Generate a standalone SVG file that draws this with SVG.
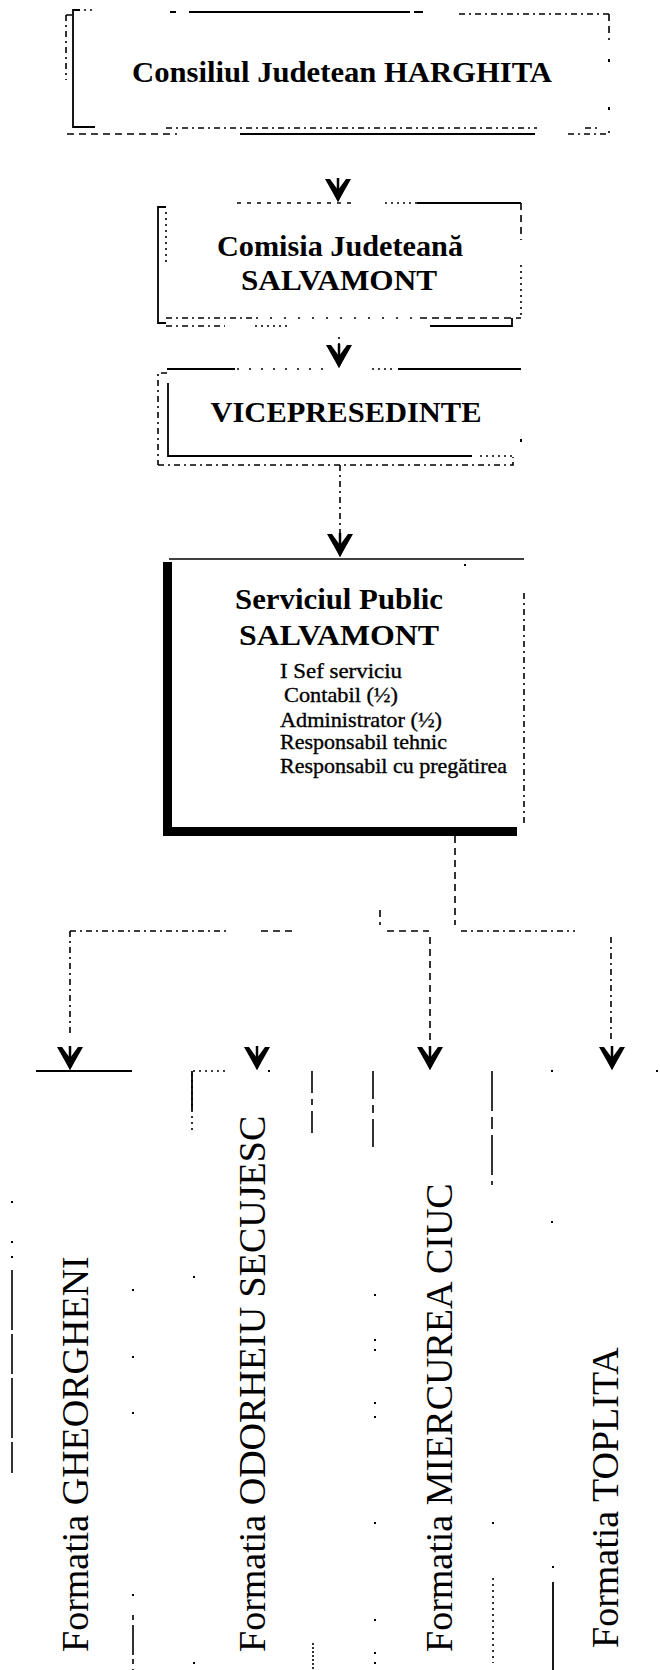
<svg xmlns="http://www.w3.org/2000/svg" width="660" height="1670" viewBox="0 0 660 1670">
<style>
.ln{stroke:#000;stroke-width:1.6;fill:none}
.sol{stroke:#000;stroke-width:1.8;fill:none}
.dsh{stroke:#000;stroke-width:1.6;fill:none;stroke-dasharray:7 5}
.dd{stroke:#000;stroke-width:1.6;fill:none;stroke-dasharray:6 4 2 4}
.dot{stroke:#000;stroke-width:1.6;fill:none;stroke-dasharray:2 4}
.hd{font-family:"Liberation Serif","Times New Roman",serif;font-weight:bold;font-size:30px;fill:#000}
.sm{font-family:"Liberation Serif","Times New Roman",serif;font-size:21px;fill:#000;stroke:#000;stroke-width:0.35}
.lab{font-family:"Liberation Serif","Times New Roman",serif;font-size:38px;fill:#000}
.pt{fill:#000}
</style>
<defs>
<g id="ah"><path d="M0,0 L-13,-23 L-8,-23 L0,-12 L8,-23 L13,-23 Z" fill="#000"/><path d="M0,0 L-6,-12 L0,-9 L6,-12 Z" fill="#000"/><path d="M0,-9 L0,-24" stroke="#000" stroke-width="2.5"/></g>
</defs>
<rect width="660" height="1670" fill="#fff"/>

<g id="node-consiliul">
<path class="sol" d="M80,10 L73,10 L73,127 L95,127"/>
<path class="dd" d="M66,15 L73,15 M66,15 L66,80"/>
<path class="dot" d="M84,10 L94,10"/>
<path class="sol" d="M170,12 L176,12 M189,12 L410,12 M414,12 L423,12"/>
<path class="dd" d="M459,14 L609,14"/>
<path class="dsh" d="M609,14 L609,40"/>
<rect class="pt" x="608" y="59" width="2" height="3"/>
<rect class="pt" x="608" y="107" width="2" height="3"/>
<path class="dd" d="M166,128 L537,128"/>
<path class="dsh" d="M67,134 L177,134"/>
<path class="sol" d="M240,134 L535,134"/>
<path class="dd" d="M568,134 L609,134 L609,127 M585,128 L600,128"/>
<text class="hd" x="342" y="82" text-anchor="middle" textLength="420" lengthAdjust="spacingAndGlyphs">Consiliul Judetean HARGHITA</text>
</g>

<g id="node-comisia">
<path class="sol" d="M166,207 L158,207 L158,323 L166,323"/>
<path class="dot" d="M166,212 L166,262"/>
<path class="dsh" d="M237,203 L353,203" style="stroke-dasharray:4 6"/>
<path class="dot" d="M385,203 L417,203"/>
<path class="sol" d="M417,203 L521,203"/>
<path class="dsh" d="M521,203 L521,240"/>
<path class="dot" d="M521,265 L521,317"/>
<path class="dd" d="M166,318 L260,318"/>
<path class="dot" d="M270,318 L420,318" style="stroke-dasharray:2 12"/>
<path class="dsh" d="M420,318 L521,318"/>
<path class="dd" d="M166,326 L225,326"/>
<path class="dot" d="M255,326 L290,326"/>
<path class="sol" d="M430,326 L512,326 L512,318"/>
<text class="hd" x="340" y="256" text-anchor="middle" textLength="246" lengthAdjust="spacingAndGlyphs">Comisia Judeteană</text>
<text class="hd" x="339" y="290" text-anchor="middle" textLength="196" lengthAdjust="spacingAndGlyphs">SALVAMONT</text>
</g>

<g id="node-vicepresedinte">
<path class="sol" d="M167,369 L235,369"/>
<path class="dot" d="M237,369 L330,369" style="stroke-dasharray:2 10"/>
<path class="dot" d="M372,369 L393,369"/>
<path class="sol" d="M398,369 L521,369"/>
<path class="dd" d="M167,373 L158,373 L158,465"/>
<path class="sol" d="M168,383 L168,456 L472,456"/>
<path class="dot" d="M480,456 L512,456"/>
<path class="dd" d="M158,465 L513,465 L513,457"/>
<rect class="pt" x="520" y="439" width="2" height="3"/>
<text class="hd" x="346" y="422" text-anchor="middle" textLength="271" lengthAdjust="spacingAndGlyphs">VICEPRESEDINTE</text>
</g>

<g id="node-serviciul">
<path d="M163,562 L172,562 L172,827 L517,827 L517,836 L163,836 Z" fill="#000"/>
<path class="ln" d="M169,559 L524,559"/>
<path class="dd" d="M524,593 L524,823"/>
<rect class="pt" x="464" y="564" width="2" height="2"/>
<text class="hd" x="339" y="609" text-anchor="middle" textLength="208" lengthAdjust="spacingAndGlyphs">Serviciul Public</text>
<text class="hd" x="339" y="645" text-anchor="middle" textLength="200" lengthAdjust="spacingAndGlyphs">SALVAMONT</text>
<text class="sm" x="280" y="678" textLength="122" lengthAdjust="spacingAndGlyphs">I Sef serviciu</text>
<text class="sm" x="284" y="702" textLength="114" lengthAdjust="spacingAndGlyphs">Contabil (½)</text>
<text class="sm" x="280" y="727" textLength="162" lengthAdjust="spacingAndGlyphs">Administrator (½)</text>
<text class="sm" x="280" y="749" textLength="167" lengthAdjust="spacingAndGlyphs">Responsabil tehnic</text>
<text class="sm" x="280" y="773" textLength="227" lengthAdjust="spacingAndGlyphs">Responsabil cu pregătirea</text>
</g>

<g id="node-gheorgheni">
<text class="lab" transform="translate(88,1652) rotate(-90)">Formatia GHEORGHENI</text>
</g>
<g id="node-odorheiu">
<text class="lab" transform="translate(265,1652) rotate(-90)">Formatia ODORHEIU SECUJESC</text>
</g>
<g id="node-miercurea">
<text class="lab" transform="translate(452,1652) rotate(-90)">Formatia MIERCUREA CIUC</text>
</g>
<g id="node-toplita">
<text class="lab" transform="translate(618,1648) rotate(-90)">Formatia TOPLITA</text>
</g>

<g id="connectors">
<use href="#ah" x="338" y="202"/>
<path class="dot" d="M339,337 L339,350"/>
<use href="#ah" x="339" y="368"/>
<path class="dd" d="M340,465 L340,545"/>
<use href="#ah" x="340" y="557"/>
<path class="dsh" d="M455,836 L455,925"/>
<path class="dsh" d="M380,910 L380,925"/>
<path class="dd" d="M70,931 L227,931"/>
<path class="dsh" d="M261,931 L297,931"/>
<path class="dsh" d="M387,931 L429,931"/>
<path class="dd" d="M461,931 L575,931"/>
<path class="dd" d="M70,931 L70,1033"/>
<use href="#ah" x="70" y="1070"/>
<path class="sol" d="M36,1071 L132,1071"/>
<use href="#ah" x="257" y="1070"/>
<path class="dsh" d="M430,937 L430,1043"/>
<use href="#ah" x="430" y="1070"/>
<path class="dd" d="M611,937 L611,1043"/>
<use href="#ah" x="612" y="1070"/>
</g>

<g id="artifacts">
<path class="dot" d="M192,1130 L192,1071 L227,1071"/>
<path class="sol" d="M192,1071 L192,1110"/>
<rect class="pt" x="268" y="1070" width="2" height="2"/>
<path class="dsh" d="M312,1071 L312,1135" style="stroke-dasharray:22 6 6 6"/>
<path class="dsh" d="M373,1071 L373,1153" style="stroke-dasharray:28 6 8 6"/>
<path class="dsh" d="M492,1071 L492,1185" style="stroke-dasharray:40 6 12 6"/>
<rect class="pt" x="551" y="1070" width="2" height="2"/>
<rect class="pt" x="656" y="1070" width="2" height="2"/>
<rect class="pt" x="551" y="1221" width="2" height="2"/>
<rect class="pt" x="11" y="1201" width="2" height="2"/>
<rect class="pt" x="11" y="1241" width="2" height="2"/>
<rect class="pt" x="11" y="1256" width="2" height="2"/>
<path class="dsh" d="M12,1270 L12,1473" style="stroke-dasharray:60 4 40 4"/>
<rect class="pt" x="132" y="1289" width="2" height="2"/>
<rect class="pt" x="132" y="1356" width="2" height="2"/>
<rect class="pt" x="132" y="1412" width="2" height="2"/>
<rect class="pt" x="132" y="1594" width="2" height="2"/>
<path class="dsh" d="M133,1615 L133,1670" style="stroke-dasharray:5 5 30 4"/>
<rect class="pt" x="193" y="1276" width="2" height="2"/>
<rect class="pt" x="193" y="1662" width="2" height="2"/>
<path class="dot" d="M313,1643 L313,1670" style="stroke-dasharray:2 2"/>
<rect class="pt" x="374" y="1294" width="2" height="2"/>
<rect class="pt" x="374" y="1339" width="2" height="2"/>
<rect class="pt" x="374" y="1349" width="2" height="2"/>
<rect class="pt" x="374" y="1402" width="2" height="2"/>
<rect class="pt" x="374" y="1416" width="2" height="2"/>
<rect class="pt" x="374" y="1522" width="2" height="2"/>
<rect class="pt" x="374" y="1619" width="2" height="2"/>
<rect class="pt" x="374" y="1652" width="2" height="2"/>
<rect class="pt" x="374" y="1662" width="2" height="2"/>
<rect class="pt" x="492" y="1522" width="2" height="2"/>
<path class="dot" d="M493,1578 L493,1663"/>
<rect class="pt" x="552" y="1566" width="2" height="2"/>
<path class="sol" d="M553,1582 L553,1670"/>
</g>
</svg>
